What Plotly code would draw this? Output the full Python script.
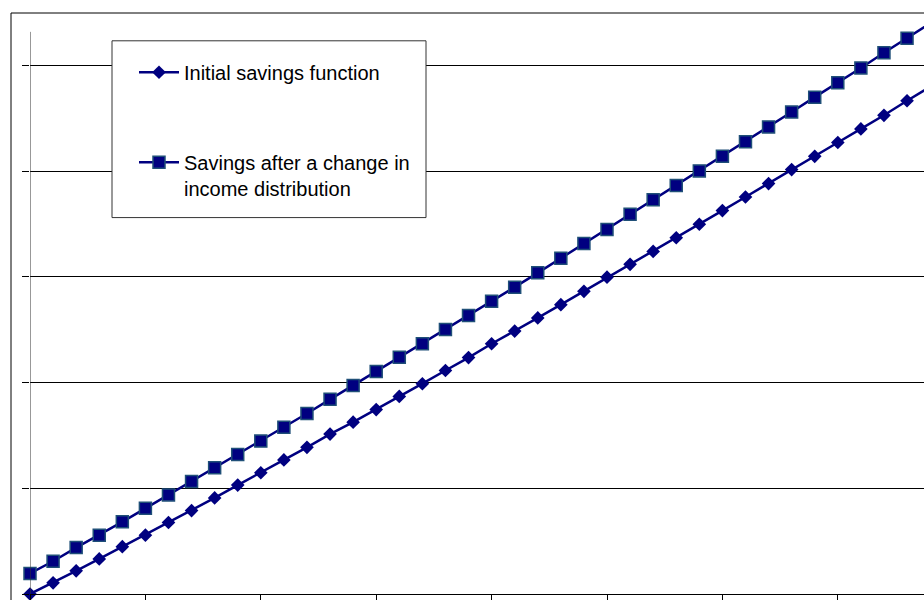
import plotly.graph_objects as go

# x positions (category index along the income axis)
x_vals = list(range(40))

# Series values (gridline spacing = 10 units)
initial_savings = [0.0, 1.06, 2.19, 3.32, 4.48, 5.57, 6.77, 7.89, 9.09, 10.31,
                   11.47, 12.69, 13.88, 15.13, 16.26, 17.45, 18.70, 19.90, 21.15, 22.37,
                   23.68, 24.88, 26.13, 27.38, 28.64, 29.98, 31.20, 32.42, 33.71, 34.99,
                   36.28, 37.57, 38.84, 40.16, 41.42, 42.73, 44.01, 45.30, 46.68, 48.0]
savings_after = [1.95, 3.10, 4.39, 5.57, 6.83, 8.11, 9.38, 10.65, 11.94, 13.19,
                 14.47, 15.79, 17.08, 18.42, 19.74, 21.05, 22.40, 23.68, 25.03, 26.36,
                 27.70, 29.04, 30.39, 31.77, 33.18, 34.49, 35.93, 37.31, 38.66, 40.04,
                 41.42, 42.79, 44.20, 45.61, 47.02, 48.37, 49.78, 51.22, 52.60, 54.0]

series_names = ["Initial savings function",
                "Savings after a change in<br>income distribution"]

NAVY = "#000080"
FONT = "Arial, Liberation Sans, sans-serif"

fig = go.Figure()
fig.add_trace(go.Scatter(
    x=x_vals, y=initial_savings, mode="lines+markers", name=series_names[0],
    legendgroup="a", cliponaxis=False,
    line=dict(color=NAVY, width=2.5),
    marker=dict(symbol="diamond", size=10.5, color=NAVY, line=dict(width=0)),
))
fig.add_trace(go.Scatter(
    x=x_vals, y=savings_after, mode="lines+markers", name=series_names[1],
    legendgroup="b", cliponaxis=False,
    line=dict(color=NAVY, width=2.5),
    marker=dict(symbol="square", size=12, color=NAVY, line=dict(width=1.5, color="#1f4f78")),
))

W, H = 924, 600
L, R, T, B = 30, 0, 13, 2
px_per_x = 23.08
px_per_y = 10.64
pw = W - L - R
ph = H - T - B
x_max = pw / px_per_x
y_max = ph / px_per_y

def paper_x(sx):
    return (sx - L) / pw

def paper_y(sy):
    return (H - B - sy) / ph

fig.update_layout(
    width=W, height=H,
    margin=dict(l=L, r=R, t=T, b=B),
    paper_bgcolor="white", plot_bgcolor="white",
    font=dict(family=FONT, size=20, color="black"),
    showlegend=True,
    legend=dict(
        x=paper_x(134), y=paper_y(53), xanchor="left", yanchor="top",
        bgcolor="rgba(0,0,0,0)", borderwidth=0,
        traceorder="grouped", tracegroupgap=61, valign="top",
        itemwidth=40,
        font=dict(family=FONT, size=20, color="black"),
    ),
    xaxis=dict(
        range=[0, x_max], showgrid=False, zeroline=False,
        showline=True, linecolor="black", linewidth=1,
        tickmode="array", tickvals=list(range(0, 40, 5)),
        ticks="outside", ticklen=6, tickcolor="black", showticklabels=False,
    ),
    yaxis=dict(
        range=[0, y_max], showgrid=True, gridcolor="black", gridwidth=1,
        zeroline=False, showline=False,
        tickmode="array", tickvals=list(range(0, 60, 10)),
        ticks="outside", ticklen=7, tickcolor="black", showticklabels=False,
    ),
    shapes=[
        # y axis line (plot area top sits below the chart frame)
        dict(type="line", xref="x", yref="y", x0=0, x1=0, y0=0,
             y1=(598 - 32) / px_per_y, line=dict(color="#333333", width=1)),
        # outer chart frame
        dict(type="rect", xref="paper", yref="paper",
             x0=paper_x(11), x1=paper_x(940), y0=paper_y(615), y1=paper_y(13),
             line=dict(color="black", width=1), fillcolor="rgba(0,0,0,0)", layer="above"),
        # legend box
        dict(type="rect", xref="paper", yref="paper",
             x0=paper_x(112), x1=paper_x(426), y0=paper_y(219), y1=paper_y(41),
             line=dict(color="#333333", width=1), fillcolor="white", layer="above"),
    ],
)

fig.write_html(
    "out.html",
    config={"displayModeBar": False},
    post_script="document.body.style.margin='0';document.body.style.overflow='hidden';",
)
